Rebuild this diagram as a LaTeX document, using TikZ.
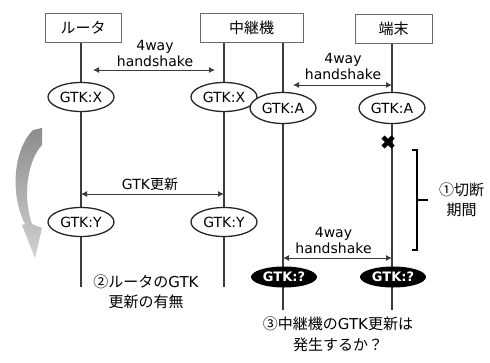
\documentclass[tikz,border=0pt]{standalone}
\usepackage{fontspec}
\setmainfont{DejaVu Sans}
\newfontfamily\jp{Noto Sans CJK JP}
\usetikzlibrary{shapes.geometric,arrows.meta}
\definecolor{linegray}{HTML}{3C3C3C}
\definecolor{boxgray}{HTML}{6A6A6A}
\colorlet{arrowtop}{black!45}
\colorlet{arrowbottom}{black!18}
\tikzstyle{station} = [
    draw=boxgray,
    line width=1pt,
    rectangle,
    minimum height=29pt,
    inner sep=0pt,
    font=\fontsize{15}{18}\jp
    ]
\tikzstyle{lifeline} = [draw=linegray, line width=1.3pt]
\tikzstyle{gtkkey} = [
    ellipse,
    draw=black!85,
    line width=1.3pt,
    fill=white,
    minimum width=66pt,
    minimum height=29pt,
    inner sep=0pt,
    font=\fontsize{14}{16}\selectfont
    ]
\tikzstyle{gtkunknown} = [
    ellipse,
    fill=black,
    text=white,
    minimum width=66pt,
    minimum height=21pt,
    inner sep=0pt,
    font=\fontsize{13}{15}\selectfont\bfseries
    ]
\tikzstyle{msg} = [draw=linegray, line width=1pt, {Latex[length=6pt,width=6pt]}-{Latex[length=6pt,width=6pt]}]
\tikzstyle{msglabel} = [align=center, inner sep=0pt, font=\fontsize{14}{16}\selectfont]
\tikzstyle{note} = [align=center, inner sep=0pt, font=\fontsize{15}{20.5}\selectfont]

\begin{document}
\begin{tikzpicture}[x=1pt,y=-1pt]
\useasboundingbox (0,0) rectangle (490,362);

% stations
\node[station, minimum width=76pt] (router) at (83,27.5) {ルータ};
\node[station, minimum width=103pt] (relay) at (251.5,27.5) {中継機};
\node[station, minimum width=77pt] (term) at (393.5,29) {端末};

% lifelines
\coordinate (rline) at (81,287);
\coordinate (mlline) at (224,287);
\coordinate (mrline) at (283,310);
\coordinate (tline) at (392,310);
\draw[lifeline] (router.south -| rline) -- (rline);
\draw[lifeline] (relay.south -| mlline) -- (mlline);
\draw[lifeline] (relay.south -| mrline) -- (mrline);
\draw[lifeline] (term.south -| tline) -- (tline);

% keys
\node[gtkkey] (rx) at (81,97) {GTK:X};
\node[gtkkey] (mx) at (224,97) {GTK:X};
\node[gtkkey, minimum height=31pt] (ma) at (283,108) {GTK:A};
\node[gtkkey, minimum height=31pt] (ta) at (392,108) {GTK:A};
\node[gtkkey] (ry) at (81,222) {GTK:Y};
\node[gtkkey] (my) at (224,222) {GTK:Y};
\node[gtkunknown] (mq) at (284,277) {GTK:?};
\node[gtkunknown] (tq) at (393,277) {GTK:?};

% messages
\coordinate (rh) at (81,70);
\coordinate (mh) at (224,70);
\draw[msg, shorten <=12pt, shorten >=9pt] (rh) -- (mh);
\node[msglabel] (hs1) at (155,53.5) {4way\\handshake};

\coordinate (mh2) at (283,85);
\coordinate (th2) at (392,85);
\draw[msg, shorten <=10pt] (mh2) -- (th2);
\node[msglabel] (hs2) at (343,66.5) {4way\\handshake};

\coordinate (ru) at (81,194);
\coordinate (mu) at (224,194);
\draw[msg] (ru) -- (mu);
\node[msglabel] (upd) at (150,184) {GTK{\jp 更新}};

\coordinate (mh3) at (283,258);
\coordinate (th3) at (392,258);
\draw[msg] (mh3) -- (th3);
\node[msglabel] (hs3) at (333.5,240.5) {4way\\handshake};

% disconnection
\coordinate (cut) at (388,142);
\draw[line width=4.5pt] ([shift={(-5,-5)}]cut) -- ([shift={(5,5)}]cut);
\draw[line width=4.5pt] ([shift={(-5,5)}]cut) -- ([shift={(5,-5)}]cut);
\coordinate (gaptop) at (412,150);
\coordinate (gapbottom) at (412,250);
\coordinate (gapmid) at (417,200);
\draw[line width=1.3pt] (gaptop) -- ++(5,0) |- (gapbottom);
\draw[line width=1.3pt] (gapmid) -- ++(11,0);
\node[note] (gapnote) at (461.5,200) {{\jp ①切断}\\{\jp 期間}};

% router side
\shade[top color=arrowtop, bottom color=arrowbottom]
    (33,130) -- (42,128) -- (42,145)
    .. controls (28,160) and (22,195) .. (32,224)
    -- (42,228) -- (35,258) -- (22,225) -- (25,224)
    .. controls (10,195) and (13,150) .. (33,130) -- cycle;
\node[note] (q2) at (146,292) {{\jp ②ルータの}GTK\\{\jp 更新の有無}};
\node[note] (q3) at (338,334.5) {{\jp ③中継機の}GTK{\jp 更新は}\\{\jp 発生するか？}};
\end{tikzpicture}
\end{document}
